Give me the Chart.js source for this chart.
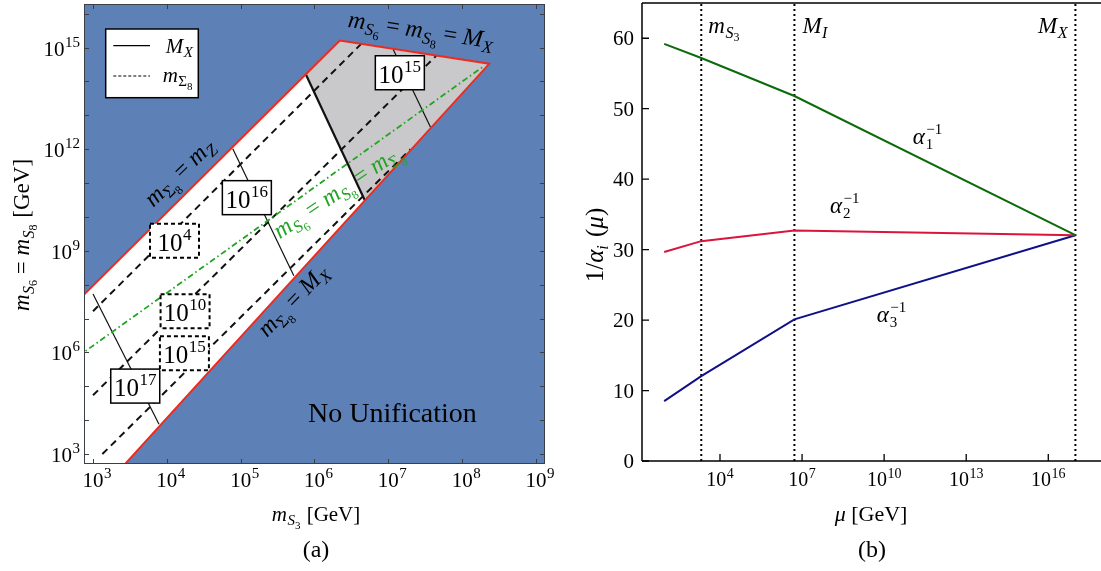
<!DOCTYPE html>
<html><head><meta charset="utf-8">
<script src="https://cdn.jsdelivr.net/npm/chart.js@4/dist/chart.umd.min.js"></script>
<style>
html,body{margin:0;padding:0;background:#fff;overflow:hidden;width:1101px;height:571px;}
#wrap{position:relative;width:1101px;height:571px;overflow:hidden;}
#ca{position:absolute;left:0;top:0;}
#cb{position:absolute;left:560px;top:0;}
</style></head>
<body><div id="wrap"><canvas id="ca" width="560" height="571"></canvas><canvas id="cb" width="543" height="571"></canvas></div>
<script>
// ================= DATA: panel (a)  (m_S3 [GeV], m_S6=m_S8 [GeV]) =================
const aXRange = [755, 1.325e9];
const aYRange = [508, 1.93e16];
const aXTickValues = [1e3, 1e4, 1e5, 1e6, 1e7, 1e8, 1e9];
const aXTickExps = ['3', '4', '5', '6', '7', '8', '9'];
const aYTickValues = [1e3,1e4,1e5,1e6,1e7,1e8,1e9,1e10,1e11,1e12,1e13,1e14,1e15,1e16];
const aYLabelValues = [1e3, 1e6, 1e9, 1e12, 1e15];
const aYLabelExps = ['3', '6', '9', '12', '15'];

const allowedRegion = [[631, 3.44e7], [2.203e6, 1.607e15], [2.323e8, 3.311e14], [2455, 398], [631, 398]];
const grayRegion = [[7.62e5, 1.622e14], [2.203e6, 1.607e15], [2.323e8, 3.311e14], [4.80e6, 3.09e10]];
const redBoundary = [[631, 3.44e7], [2.203e6, 1.607e15], [2.323e8, 3.311e14], [2455, 398]];
const mxThick = [[7.62e5, 1.622e14], [4.80e6, 3.09e10]];
const mxContour15 = [[1.161e7, 8.91e14], [3.733e7, 4.44e12]];
const mxContour16 = [[7.816e4, 1.021e12], [5.248e5, 1.841e8]];
const mxContour17 = [[1e3, 5.32e7], [7.834e3, 7.62e3]];
const msContour4 = [[1e3, 1.64e7], [4.295e6, 1.285e15]];
const msContour10 = [[1e3, 5.43e4], [4.467e7, 5.78e14]];
const msContour15 = [[1.34e3, 1e3], [2.0e7, 1e12]];
const equalLine = [[631, 7.71e5], [1.936e8, 2.76e14]];

const mxLabelExps = ['15', '16', '17'];
const msLabelExps = ['4', '10', '15'];

// ================= DATA: panel (b) =================
const muPoints = [91.19, 2.07e3, 5.25e6, 9.8e16];
const alpha1Inv = [59.2, 57.2, 51.8, 32.05];
const alpha2Inv = [29.65, 31.2, 32.7, 32.05];
const alpha3Inv = [8.5, 12.05, 20.1, 32.05];
const thresholds = [2.07e3, 5.25e6, 9.8e16];
const bXRange = [14.1, 1e18];
const bYRange = [0, 65];
const bXTickValues = [1e4, 1e7, 1e10, 1e13, 1e16];
const bXTickExps = ['4', '7', '10', '13', '16'];
const bYTickValues = [0, 10, 20, 30, 40, 50, 60];

// ================= layout / style (not data) =================
const SERIF = '"Liberation Serif", "Times New Roman", serif';
const BLUE = '#5d80b6', GRAY = '#c9c8ca', RED = '#ee2b1c', GREEN = '#22a522';
const mxLabelPos = [[1.432e7, 1.803e14], [1.213e5, 3.70e10], [3.733e3, 1.014e5]];
const msLabelPos = [[1.27e4, 1.968e9], [1.766e4, 1.641e7], [1.73e4, 9.46e5]];

function fnt(s, it) { return (it ? 'italic ' : '') + s + 'px ' + SERIF; }
function S(t, s, o) { return Object.assign({t: t, s: s}, o || {}); }
function rich(ctx, segs, x, y, align, rot, color) {
  ctx.save();
  ctx.translate(x, y);
  if (rot) ctx.rotate(rot * Math.PI / 180);
  let w = 0;
  segs.forEach(g => { ctx.font = fnt(g.s, g.i); g._w = ctx.measureText(g.t).width; w += g._w + (g.dx || 0); });
  let cx = align === 'center' ? -w / 2 : align === 'right' ? -w : 0;
  ctx.textBaseline = 'alphabetic'; ctx.textAlign = 'left';
  segs.forEach(g => { ctx.font = fnt(g.s, g.i); ctx.fillStyle = g.c || color || '#000'; cx += (g.dx || 0); ctx.fillText(g.t, cx, g.dy || 0); cx += g._w; });
  ctx.restore();
  return w;
}
function pow10(e, s, k) { k = k || 0.7; return [S('10', s), S(e, Math.round(s * k), {dy: -Math.round(s * 0.42), dx: 0.5})]; }
function mSub(base, sub, subsub, s, opt) {
  opt = opt || {};
  const r = [S(base, s, {i: 1})];
  r.push(S(sub, Math.round(s * 0.7), {i: opt.subUpright ? 0 : 1, dy: Math.round(s * 0.2), dx: 0.5}));
  if (subsub) r.push(S(subsub, Math.round(s * 0.5), {dy: Math.round(s * 0.36)}));
  return r;
}
function poly(ctx, xs, ys, pts, color) {
  ctx.beginPath();
  pts.forEach((p, i) => { const px = xs.getPixelForValue(p[0]), py = ys.getPixelForValue(p[1]); if (i) ctx.lineTo(px, py); else ctx.moveTo(px, py); });
  ctx.closePath(); ctx.fillStyle = color; ctx.fill();
}
function lineDS(pts, color, width, dash, order) {
  return { data: pts.map(p => ({x: p[0], y: p[1]})), showLine: true, borderColor: color, borderWidth: width,
    borderDash: dash || [], pointRadius: 0, pointHoverRadius: 0, fill: false, order: order, tension: 0 };
}
function labelBox(ctx, cx, cy, exp, dashed) {
  const w = 49, h = 34;
  ctx.save();
  ctx.fillStyle = '#fff';
  ctx.fillRect(cx - w / 2, cy - h / 2, w, h);
  ctx.strokeStyle = '#000';
  ctx.lineWidth = dashed ? 2 : 1.5;
  ctx.setLineDash(dashed ? [4, 3] : []);
  ctx.strokeRect(cx - w / 2, cy - h / 2, w, h);
  ctx.restore();
  rich(ctx, pow10(exp, 25, 0.68), cx, cy + 10, 'center');
}

// ================= Panel (a) =================
const pluginA = {
  id: 'panelA',
  beforeDatasetsDraw(chart) {
    const {ctx, chartArea: a, scales: {x, y}} = chart;
    ctx.save();
    ctx.beginPath(); ctx.rect(a.left, a.top, a.right - a.left, a.bottom - a.top); ctx.clip();
    ctx.fillStyle = BLUE; ctx.fillRect(a.left, a.top, a.right - a.left, a.bottom - a.top);
    poly(ctx, x, y, allowedRegion, '#ffffff');
    poly(ctx, x, y, grayRegion, GRAY);
    ctx.restore();
  },
  afterDatasetsDraw(chart) {
    const {ctx, chartArea: a, scales: {x, y}} = chart;
    const X = v => x.getPixelForValue(v), Y = v => y.getPixelForValue(v);
    // contour label boxes
    mxLabelPos.forEach((p, i) => labelBox(ctx, X(p[0]), Y(p[1]), mxLabelExps[i], false));
    msLabelPos.forEach((p, i) => labelBox(ctx, X(p[0]), Y(p[1]), msLabelExps[i], true));
    // rotated annotations
    const s = 24;
    rich(ctx, [].concat(mSub('m', 'S', '6', s), [S(' = ', s)], mSub('m', 'S', '8', s), [S(' = ', s)], mSub('M', 'X', null, s)),
      X(2.51e7) + 2, Y(1.84e15) - 1, 'center', 8.5);
    rich(ctx, [].concat(mSub('m', 'Σ', '8', s, {subUpright: true}), [S(' = ', s)], mSub('m', 'Z', null, s)),
      X(1.528e4) + 4, Y(1.90e11) + 4, 'center', -44);
    rich(ctx, [].concat(mSub('m', 'Σ', '8', s, {subUpright: true}), [S(' = ', s)], mSub('M', 'X', null, s)),
      X(5.16e5) + 5, Y(3.38e7) + 5, 'center', -46);
    rich(ctx, [].concat(mSub('m', 'S', '6', s), [S(' = ', s)], mSub('m', 'S', '8', s), [S(' = ', s)], mSub('m', 'Σ', '8', s, {subUpright: true})),
      X(2.133e6) + 3, Y(6.89e10) + 9, 'center', -34, GREEN);
    rich(ctx, [S('No Unification', 28)], X(1.138e7), Y(8.73e3), 'center');
    // legend
    const lx = a.left + 21.7, ly = a.top + 25;
    ctx.save();
    ctx.fillStyle = '#fff'; ctx.fillRect(lx, ly, 92.6, 68.7);
    ctx.strokeStyle = '#000'; ctx.lineWidth = 1.5; ctx.strokeRect(lx, ly, 92.6, 68.7);
    ctx.beginPath(); ctx.lineWidth = 1.3; ctx.moveTo(lx + 7.6, ly + 16.7); ctx.lineTo(lx + 44.3, ly + 16.7); ctx.stroke();
    ctx.setLineDash([3, 2]); ctx.lineWidth = 1.2;
    ctx.beginPath(); ctx.moveTo(lx + 7.6, ly + 47); ctx.lineTo(lx + 44.3, ly + 47); ctx.stroke();
    ctx.restore();
    rich(ctx, mSub('M', 'X', null, 21), lx + 60, ly + 24, 'left');
    rich(ctx, mSub('m', 'Σ', '8', 21, {subUpright: true}), lx + 57, ly + 53, 'left');
    // frame and ticks
    ctx.save();
    ctx.strokeStyle = '#3a3f48'; ctx.lineWidth = 1;
    ctx.strokeRect(a.left + 0.5, a.top + 0.5, a.right - a.left - 1, a.bottom - a.top - 1);
    ctx.beginPath();
    aXTickValues.forEach(v => { const px = Math.round(X(v)) + 0.5; ctx.moveTo(px, a.bottom); ctx.lineTo(px, a.bottom - 5); ctx.moveTo(px, a.top); ctx.lineTo(px, a.top + 5); });
    aYTickValues.forEach(v => { const py = Math.round(Y(v)) + 0.5; ctx.moveTo(a.left, py); ctx.lineTo(a.left + 5, py); ctx.moveTo(a.right, py); ctx.lineTo(a.right - 5, py); });
    ctx.stroke();
    ctx.restore();
    // tick labels
    aXTickValues.forEach((v, i) => rich(ctx, pow10(aXTickExps[i], 21, 0.72), X(v) + 4, a.bottom + 23, 'center'));
    aYLabelValues.forEach((v, i) => rich(ctx, pow10(aYLabelExps[i], 21, 0.72), a.left - 4, Y(v) + 8, 'right'));
    // axis titles
    rich(ctx, [].concat(mSub('m', 'S', '3', 21), [S(' [GeV]', 21, {dx: 1})]), 316, 521, 'center');
    rich(ctx, [].concat(mSub('m', 'S', '6', 23), [S(' = ', 23)], mSub('m', 'S', '8', 23), [S(' [GeV]', 23, {dx: 1})]), 29, 235, 'center', -90);
    rich(ctx, [S('(a)', 24)], 316, 557, 'center');
  }
};

new Chart(document.getElementById('ca'), {
  type: 'scatter',
  data: { datasets: [
    lineDS(redBoundary, RED, 2, [], 1),
    lineDS(mxThick, '#111', 2.2, [], 2),
    lineDS(equalLine, GREEN, 1.8, [6, 3, 1.5, 3], 3),
    lineDS(mxContour15, '#111', 1.2, [], 4),
    lineDS(mxContour16, '#111', 1.2, [], 4),
    lineDS(mxContour17, '#111', 1.2, [], 4),
    lineDS(msContour4, '#111', 2, [7, 5], 5),
    lineDS(msContour10, '#111', 2, [7, 5], 5),
    lineDS(msContour15, '#111', 2, [7, 5], 5)
  ]},
  options: {
    responsive: false, animation: false, events: [],
    layout: { padding: { top: 4, right: 15, left: 0, bottom: 0 } },
    plugins: { legend: { display: false }, tooltip: { enabled: false } },
    scales: {
      x: { type: 'logarithmic', min: aXRange[0], max: aXRange[1], ticks: { display: false }, grid: { display: false }, border: { display: false },
           afterFit(s) { s.height = 107; } },
      y: { type: 'logarithmic', min: aYRange[0], max: aYRange[1], ticks: { display: false }, grid: { display: false }, border: { display: false },
           afterFit(s) { s.width = 84; } }
    }
  },
  plugins: [pluginA]
});

// ================= Panel (b) =================
const pluginB = {
  id: 'panelB',
  afterDatasetsDraw(chart) {
    const {ctx, chartArea: a, scales: {x, y}} = chart;
    const X = v => x.getPixelForValue(v), Y = v => y.getPixelForValue(v);
    ctx.save();
    ctx.strokeStyle = '#000'; ctx.lineWidth = 1.5;
    ctx.beginPath();
    ctx.moveTo(a.left, a.top); ctx.lineTo(a.right, a.top);
    ctx.moveTo(a.left, a.top); ctx.lineTo(a.left, a.bottom);
    ctx.moveTo(a.left, a.bottom); ctx.lineTo(a.right, a.bottom);
    ctx.stroke();
    ctx.lineWidth = 1.3;
    ctx.beginPath();
    bXTickValues.forEach(v => { const px = X(v); ctx.moveTo(px, a.bottom); ctx.lineTo(px, a.bottom - 7); });
    bYTickValues.forEach(v => { const py = Y(v); ctx.moveTo(a.left, py); ctx.lineTo(a.left + 7, py); });
    ctx.stroke();
    ctx.restore();
    bXTickValues.forEach((v, i) => rich(ctx, pow10(bXTickExps[i], 20, 0.7), X(v), a.bottom + 25, 'center'));
    bYTickValues.forEach(v => rich(ctx, [S(String(v), 21)], a.left - 8, Y(v) + 7, 'right'));
    // threshold labels
    rich(ctx, mSub('m', 'S', '3', 23), X(thresholds[0]) + 7, 33, 'left');
    rich(ctx, mSub('M', 'I', null, 23), X(thresholds[1]) + 8, 33, 'left');
    rich(ctx, mSub('M', 'X', null, 23), X(thresholds[2]) - 8, 33, 'right');
    // coupling labels
    const al = n => [S('α', 23, {i: 1}), S(n, 15, {dy: 5, dx: 1}), S('−1', 15, {dy: -10, dx: -7})];
    rich(ctx, al('1'), X(1.105e11), Y(44.99), 'left');
    rich(ctx, al('2'), X(1.047e8), Y(35.19), 'left');
    rich(ctx, al('3'), X(5.33e9), Y(19.77), 'left');
    // axis titles
    rich(ctx, [S('μ', 22, {i: 1}), S(' [GeV]', 22)], 871 - 560, 521, 'center');
    rich(ctx, [S('1/', 25), S('α', 25, {i: 1}), S('i', 16, {i: 1, dy: 5}), S(' (', 25, {dx: 2}), S('μ', 25, {i: 1}), S(')', 25)], 603 - 560, 245, 'center', -90);
    rich(ctx, [S('(b)', 24)], 872 - 560, 557, 'center');
  }
};

const bLine = (vals, color) => ({ data: muPoints.map((m, i) => ({x: m, y: vals[i]})), showLine: true, borderColor: color,
  borderWidth: 2, pointRadius: 0, fill: false, order: 1, tension: 0 });
const bVert = (m) => ({ data: [{x: m, y: bYRange[0]}, {x: m, y: bYRange[1]}], showLine: true, borderColor: '#000',
  borderWidth: 2, borderDash: [2, 3], pointRadius: 0, fill: false, order: 2 });

new Chart(document.getElementById('cb'), {
  type: 'scatter',
  data: { datasets: [
    bLine(alpha1Inv, '#0b6b0b'),
    bLine(alpha2Inv, '#dc143c'),
    bLine(alpha3Inv, '#101088'),
  ].concat(thresholds.map(bVert)) },
  options: {
    responsive: false, animation: false, events: [],
    layout: { padding: { top: 3, right: 0, left: 0, bottom: 0 } },
    plugins: { legend: { display: false }, tooltip: { enabled: false } },
    scales: {
      x: { type: 'logarithmic', min: bXRange[0], max: bXRange[1], ticks: { display: false }, grid: { display: false }, border: { display: false },
           afterFit(s) { s.height = 110; } },
      y: { type: 'linear', min: bYRange[0], max: bYRange[1], ticks: { display: false }, grid: { display: false }, border: { display: false },
           afterFit(s) { s.width = 82; } }
    }
  },
  plugins: [pluginB]
});
</script></body></html>
